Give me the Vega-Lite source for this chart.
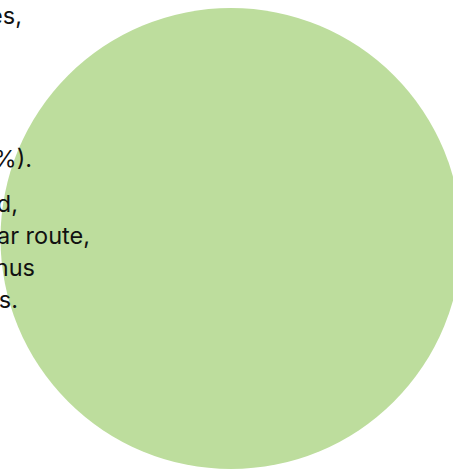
{
  "$schema": "https://vega.github.io/schema/vega-lite/v6.json",
  "autosize": {"type": "none"},
  "width": 444,
  "height": 461,
  "padding": {"left": 9, "top": 8, "right": 0, "bottom": 0},
  "background": "#ffffff",
  "config": {"view": {"stroke": null}},
  "datasets": {
    "slices": [{"category": "All", "value": 100}],
    "lines": [
      {"line": 1, "text": "routes,"},
      {"line": 2, "text": "(12%)."},
      {"line": 3, "text": "and,"},
      {"line": 4, "text": "a similar route,"},
      {"line": 5, "text": "thus"},
      {"line": 6, "text": "routes."}
    ]
  },
  "layer": [
    {
      "data": {"name": "slices"},
      "mark": {"type": "arc", "outerRadius": 230.5, "color": "#bddd9d", "stroke": null},
      "encoding": {
        "theta": {"field": "value", "type": "quantitative", "stack": true}
      }
    },
    {
      "data": {"name": "lines"},
      "mark": {"type": "text", "align": "right", "baseline": "alphabetic", "font": "Inter", "fontSize": 23.5, "color": "#111111"},
      "encoding": {
        "x": {"field": "line", "type": "quantitative", "axis": null, "scale": {"domain": [1, 2, 3, 4, 5, 6], "range": [13, 23, 9, 81, 26, 9]}},
        "y": {"field": "line", "type": "quantitative", "axis": null, "scale": {"domain": [1, 2, 3, 4, 5, 6], "range": [16, 159, 204, 236, 268, 300]}},
        "text": {"field": "text"}
      }
    }
  ]
}
